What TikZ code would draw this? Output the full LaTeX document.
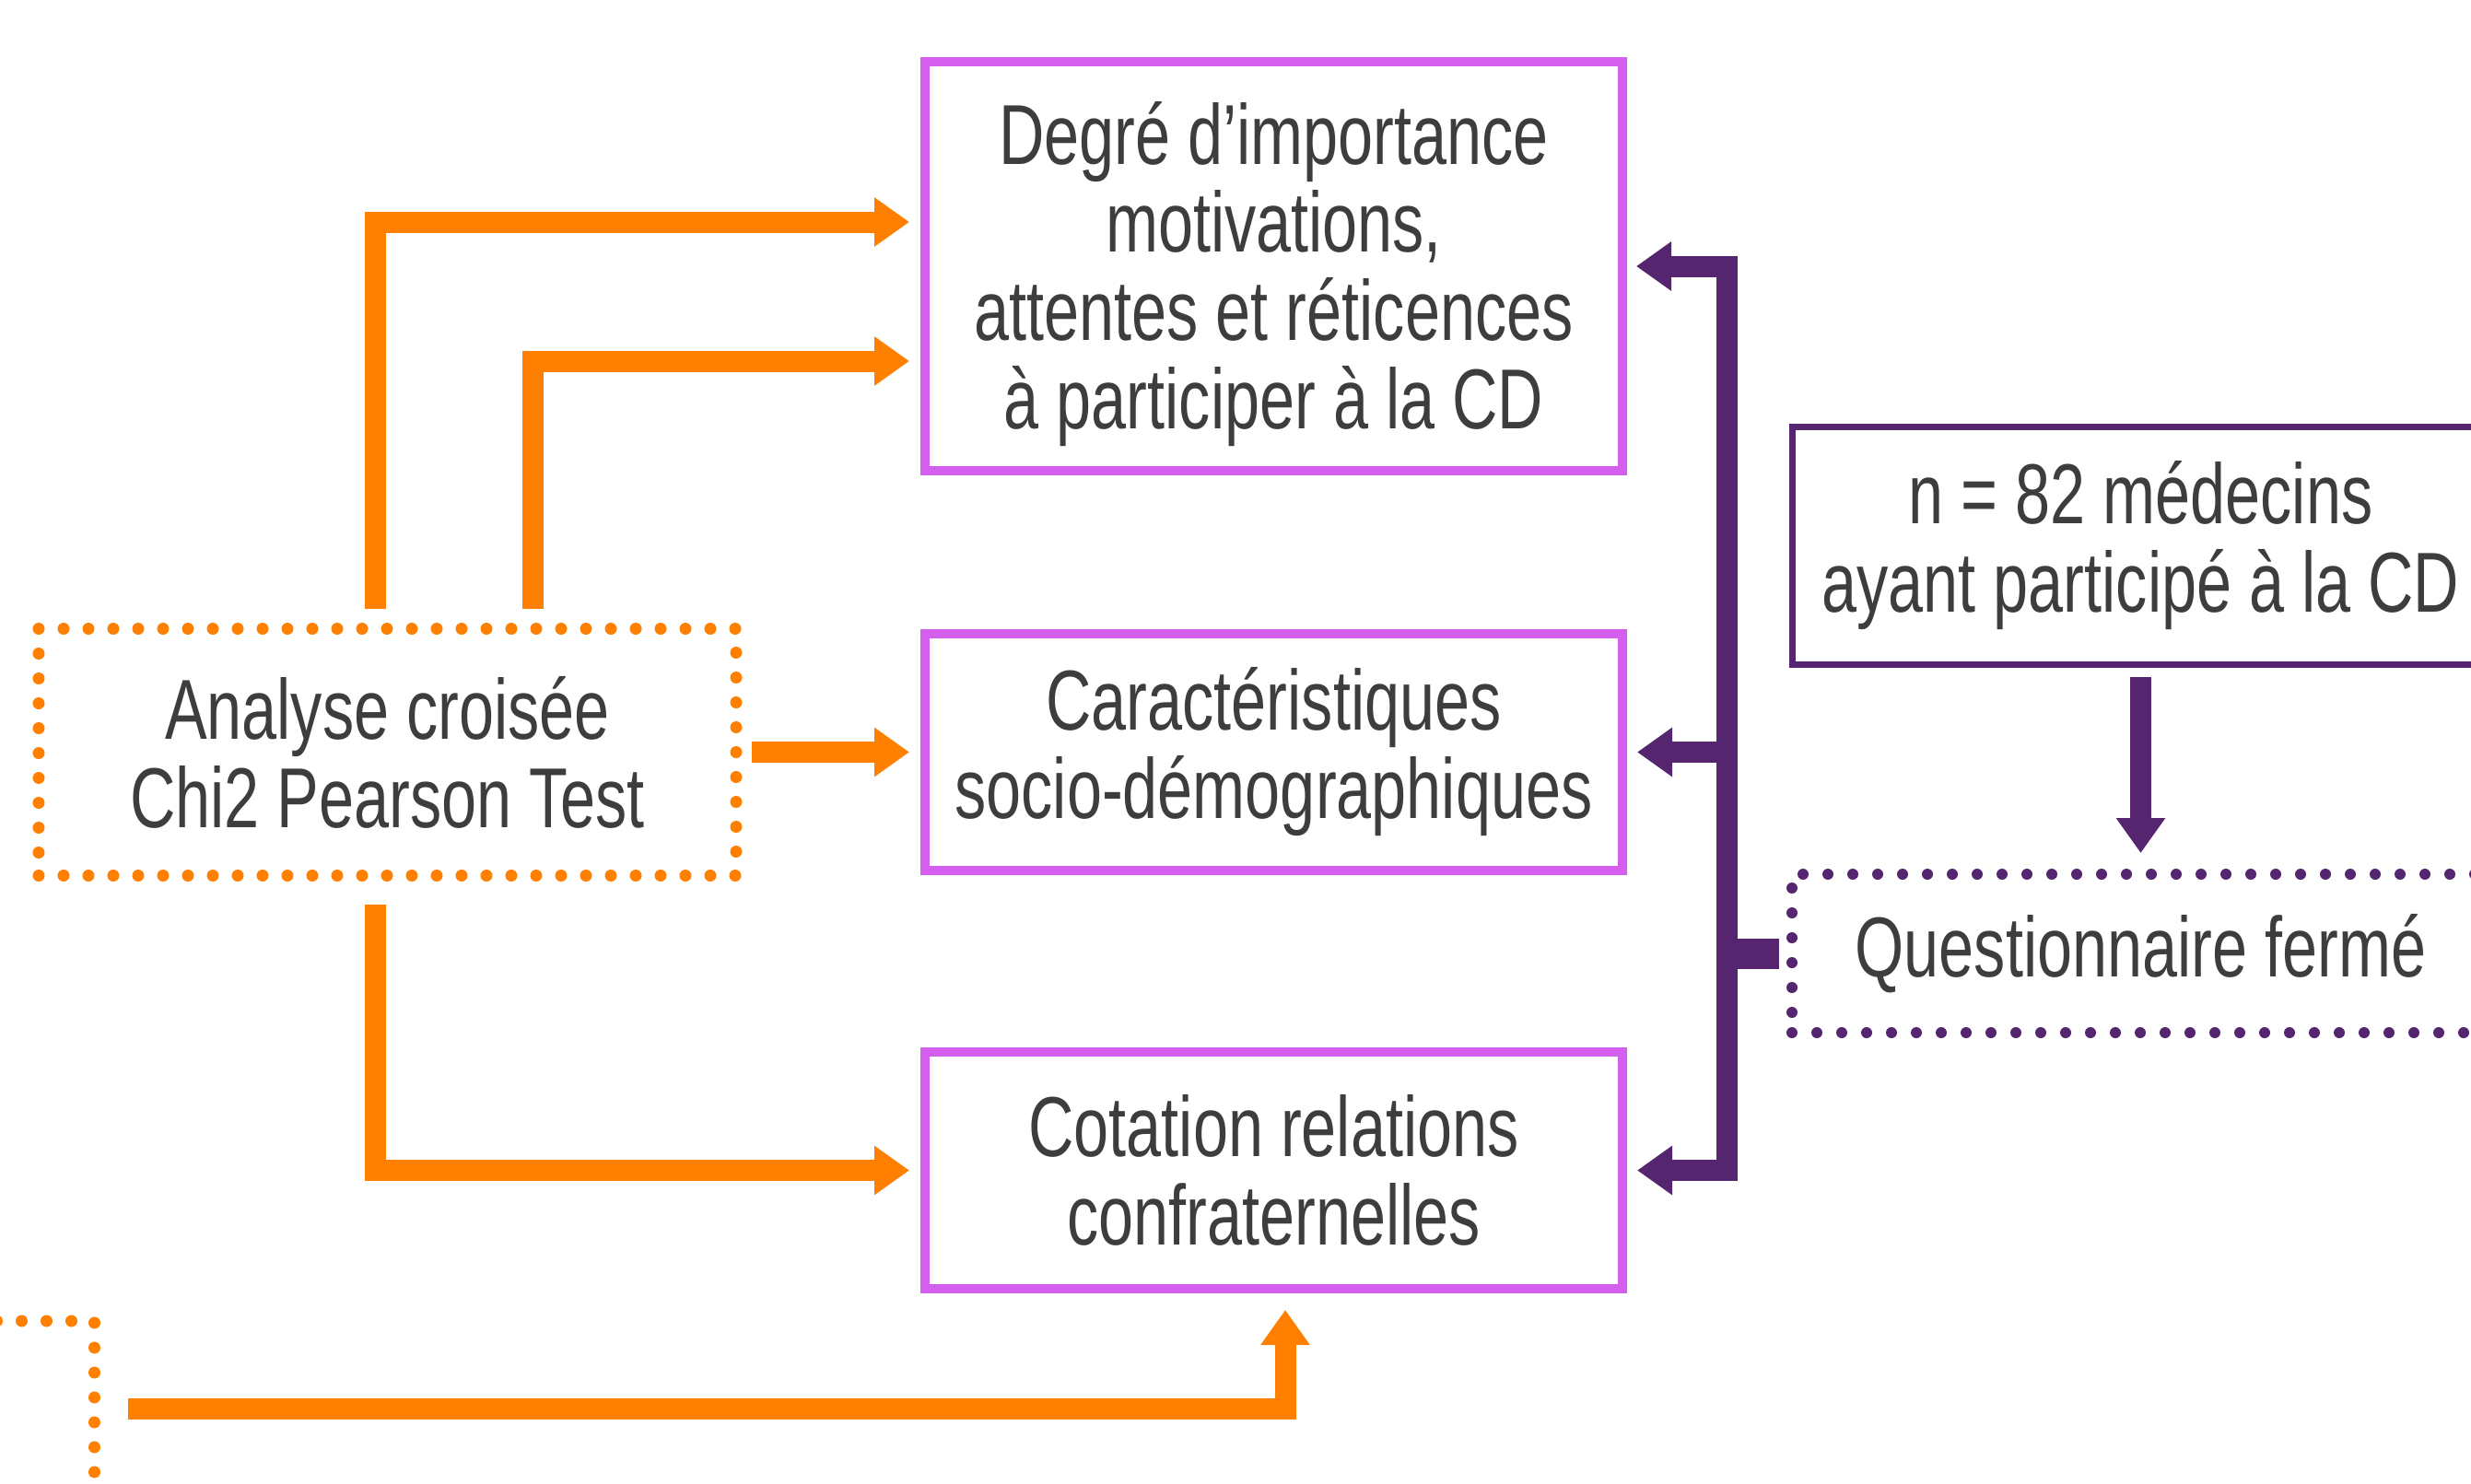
\documentclass[tikz,border=0pt]{standalone}
\usepackage{fontspec}
\setmainfont{Liberation Sans}[FakeStretch=0.74]
\usetikzlibrary{arrows.meta,positioning}
\definecolor{orangeline}{HTML}{FF7F00}
\definecolor{pinkline}{HTML}{D45FEE}
\definecolor{purpleline}{HTML}{56256F}
\definecolor{textgrey}{HTML}{3D3D3D}
\tikzset{
    %Define standard arrow tip
    >={Triangle[length=3.8mm,width=5.1mm]},
    %Define style for boxes
    pinkbox/.style={
           rectangle,
           draw=pinkline, line width=1mm,
           minimum width=75.7mm,
           minimum height=25.7mm,
           align=center,
           text=textgrey,
           font=\fontsize{26.3pt}{27.3pt}\selectfont},
    purplebox/.style={
           pinkbox,
           draw=purpleline, line width=0.7mm,
           minimum height=25.8mm},
    dotbox/.style={
           pinkbox,
           line width=1.3mm,
           line cap=round,
           dash pattern=on 0pt off 2.7mm},
    % Define arrow style
    orarr/.style={
           ->,
           draw=orangeline,
           line width=2.3mm,
           shorten <=1.5mm,
           shorten >=1.2mm,},
    puarr/.style={
           ->,
           draw=purpleline,
           line width=2.3mm,
           shorten <=1mm,
           shorten >=1.1mm,}
}
\begin{document}
\begin{tikzpicture}[x=1mm,y=1mm]
  \useasboundingbox (0,0) rectangle (268.2,-161);
  \node[pinkbox, minimum height=44.4mm] (deg) at (138.25,-28.9)
    {\rule{0pt}{8.5mm}Degré d’importance\\motivations,\\attentes et réticences\\à participer à la CD};
  \node[pinkbox, below=16.7mm of deg] (carac) {Caractéristiques\\socio-démographiques};
  \node[pinkbox, below=18.7mm of carac] (cot) {Cotation relations\\confraternelles};
  \node[dotbox, draw=orangeline, minimum height=26.8mm, left=19.35mm of carac] (analyse)
    {Analyse croisée\\Chi2 Pearson Test};
  \node[dotbox, draw=orangeline, minimum height=19mm] (other) at (-27.6,-152.9) {};
  \node[purplebox] (sample) at (232.35,-59.2) {n = 82 médecins\\ayant participé à la CD};
  \node[dotbox, draw=purpleline, line width=1.2mm, minimum height=17.2mm,
        below=21.85mm of sample] (quest) {Questionnaire fermé};
  \coordinate (bus) at (187.4,-60);

  % orange connectors
  \draw[orarr] ([xshift=-1.3mm]analyse.north) |- ([yshift=4.8mm]deg.west);
  \draw[orarr] ([xshift=15.8mm]analyse.north) |- ([yshift=-10.3mm]deg.west);
  \draw[orarr, shorten <=1mm] (analyse.east |- carac.west) -- (carac.west);
  \draw[orarr, shorten <=2.5mm] ([xshift=-1.3mm]analyse.south) |- (cot.west);
  \draw[orarr, shorten <=3mm, shorten >=1.8mm] (other.east) -| ([xshift=1.25mm]cot.south);

  % purple connectors
  \draw[puarr, <->] (deg.east) -| (bus) |- (cot.east);
  \draw[puarr] (bus |- carac.east) -- (carac.east);
  \draw[draw=purpleline, line width=3.3mm, shorten >=0.8mm] (bus |- quest.west) -- (quest.west);
  \draw[puarr, shorten >=1.7mm] (sample) -- (quest);
\end{tikzpicture}
\end{document}
